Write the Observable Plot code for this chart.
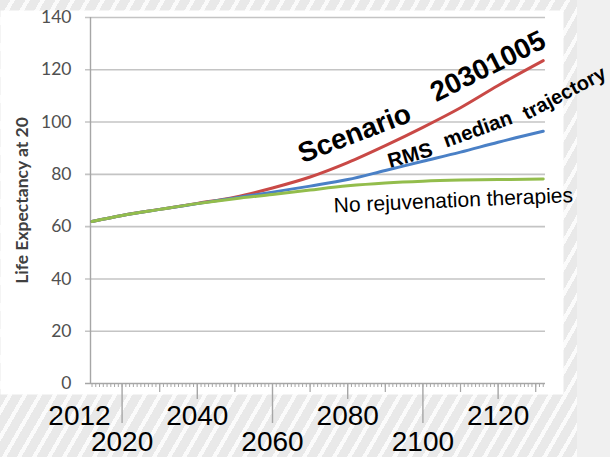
<!DOCTYPE html>
<html>
<head>
<meta charset="utf-8">
<script src="https://cdn.jsdelivr.net/npm/d3@7"></script>
<script src="https://cdn.jsdelivr.net/npm/@observablehq/plot@0.6"></script>
<style>
  html, body { margin: 0; padding: 0; background: #f0f0f0; }
  #chart svg { display: block; }
</style>
</head>
<body>
<div id="chart"></div>
<script>
// ---- data ----
const years      = [2012, 2020, 2030, 2040, 2050, 2060, 2070, 2080, 2090, 2100, 2110, 2120, 2132];
const scenario   = [62, 64.3, 66.6, 68.9, 71.3, 74.8, 79, 84.5, 91, 98, 105.5, 114, 123.5];
const rms        = [62, 64.3, 66.6, 68.8, 71.0, 73.2, 75.5, 78, 81.5, 85, 88.5, 92.3, 96.5];
const noRejuv    = [62, 64.3, 66.6, 68.8, 70.7, 72.3, 74, 75.6, 76.7, 77.4, 77.8, 78, 78.2];

const yTicks      = [0, 20, 40, 60, 80, 100, 120, 140];
const labelsRow1  = [2040, 2080, 2120];
const labelFirst  = [2012];
const labelsRow2  = [2020, 2060, 2100];
const yearTicks   = d3.range(2012, 2133);
const decadeTicks = [2030, 2050, 2070, 2090, 2110, 2130];
const midTicks    = [2040, 2080, 2120];
const majorTicks  = [2020, 2060, 2100];
const xDomain     = [2011.6, 2132.6];
const yTitle      = "Life Expectancy at 20";

// annotation texts with their anchor in data space
const annScenario = [{text: "Scenario", year: 2081.8, value: 95.6}];
const annCode     = [{text: "20301005", year: 2117.3, value: 121.3}];
const annRMS      = [{text: "RMS", year: 2096.6, value: 87.2}];
const annMedian   = [{text: "median", year: 2114.6, value: 97.2}];
const annTraj     = [{text: "trajectory", year: 2137.6, value: 111}];
const annNoRejuv  = [{text: "No rejuvenation therapies", year: 2108.1, value: 70}];

const series = [
  {name: "Scenario 20301005", values: scenario, color: "#c94946"},
  {name: "RMS median trajectory", values: rms, color: "#4a80c6"},
  {name: "No rejuvenation therapies", values: noRejuv, color: "#93bd4c"}
];
const rows = series.flatMap(s => years.map((y, i) => ({series: s.name, year: y, value: s.values[i]})));

const SANS = "Liberation Sans, Arial, sans-serif";
const CAL = "Lato, Carlito, sans-serif";
const tickStroke = "#a6a6a6";

const chart = Plot.plot({
  width: 610,
  height: 457,
  marginLeft: 90,
  marginRight: 65,
  marginTop: 17,
  marginBottom: 74,
  style: {
    fontFamily: SANS,
    overflow: "visible",
    backgroundColor: "#f0f0f0",
    backgroundImage: "repeating-linear-gradient(120deg, #e9e9e9 0px, #e9e9e9 9px, #fbfbfb 9px, #fbfbfb 13px)",
    backgroundSize: "577px 100%",
    backgroundRepeat: "no-repeat"
  },
  x: {domain: xDomain, axis: null},
  y: {domain: [0, 140], axis: null},
  color: {domain: series.map(s => s.name), range: series.map(s => s.color)},
  marks: [
    Plot.frame({fill: "white", stroke: null, insetLeft: -90, insetRight: -18, insetTop: -7, insetBottom: -11}),
    Plot.ruleY(yTicks.filter(d => d > 0), {stroke: "#c4c4c4", strokeWidth: 1.6, insetLeft: -5}),
    Plot.ruleY([0], {stroke: tickStroke, strokeWidth: 1.4, insetLeft: -5}),
    Plot.ruleX([xDomain[0]], {stroke: tickStroke, strokeWidth: 1.4}),
    Plot.axisY({ticks: yTicks, tickSize: 0, tickPadding: 19, fontSize: 17.5, fontFamily: CAL, fill: "#505050", label: null}),
    Plot.text([yTitle], {frameAnchor: "left", textAnchor: "middle", dx: -68, rotate: -90, fontWeight: "bold", fontSize: 17.5, fill: "#404040", fontFamily: CAL}),
    Plot.axisX({ticks: yearTicks, tickSize: 4, tickFormat: () => "", stroke: tickStroke, strokeWidth: 1, label: null}),
    Plot.axisX({ticks: decadeTicks, tickSize: 9, tickFormat: () => "", stroke: tickStroke, strokeWidth: 1.2, label: null}),
    Plot.axisX({ticks: midTicks, tickSize: 16, tickFormat: () => "", stroke: tickStroke, strokeWidth: 1.4, label: null}),
    Plot.axisX({ticks: majorTicks, tickSize: 40, tickFormat: () => "", stroke: tickStroke, strokeWidth: 1.4, label: null}),
    Plot.axisX({ticks: labelsRow1, tickSize: 0, tickPadding: 22, fontSize: 28, fill: "#000", label: null, tickFormat: d => String(d)}),
    Plot.axisX({ticks: labelFirst, tickSize: 0, tickPadding: 22, fontSize: 28, fill: "#000", label: null, dx: -12.5, tickFormat: d => String(d)}),
    Plot.axisX({ticks: labelsRow2, tickSize: 0, tickPadding: 48, fontSize: 28, fill: "#000", label: null, tickFormat: d => String(d)}),
    Plot.line(rows, {x: "year", y: "value", z: "series", stroke: "series", strokeWidth: 3, curve: "monotone-x"}),
    Plot.text(annScenario, {x: "year", y: "value", text: "text", rotate: -21, fontSize: 28, fontWeight: "bold", fill: "#000"}),
    Plot.text(annCode, {x: "year", y: "value", text: "text", rotate: -26.5, fontSize: 28, fontWeight: "bold", fill: "#000"}),
    Plot.text(annRMS, {x: "year", y: "value", text: "text", rotate: -16, fontSize: 20.5, fontWeight: "bold", fill: "#000"}),
    Plot.text(annMedian, {x: "year", y: "value", text: "text", rotate: -20, fontSize: 20.5, fontWeight: "bold", fill: "#000"}),
    Plot.text(annTraj, {x: "year", y: "value", text: "text", rotate: -28, fontSize: 20, fontWeight: "bold", fill: "#000"}),
    Plot.text(annNoRejuv, {x: "year", y: "value", text: "text", rotate: -2.5, fontSize: 21, fill: "#000"})
  ]
});
document.getElementById("chart").appendChild(chart);
</script>
</body>
</html>
